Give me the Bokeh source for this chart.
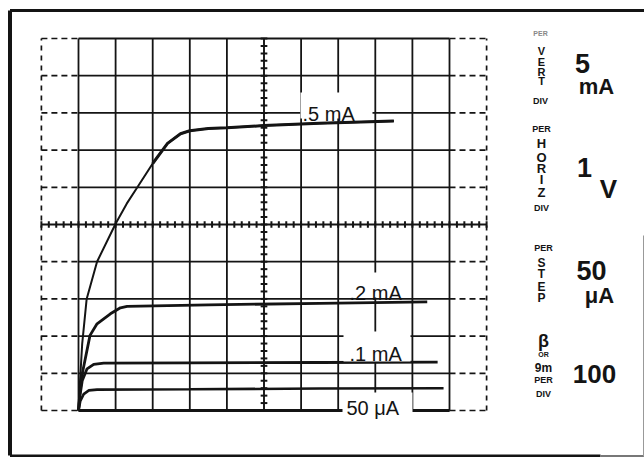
import numpy as np
from bokeh.plotting import figure
from bokeh.models import Range1d
from bokeh.core.properties import value
from bokeh.embed import file_html
from bokeh.resources import INLINE

# Curve-tracer display: collector voltage (V) against collector current (mA),
# one trace per base-current step.
step_labels = [".5 mA", ".2 mA", ".1 mA", "50 μA"]

v_500u = [0, 0.03, 0.1, 0.22, 0.5, 1.0, 1.3, 1.6, 2.0, 2.4, 2.75, 3.0, 3.5, 4.0, 5.0, 6.5, 8.5]
i_500u = [0, 3.0, 9.0, 15.0, 20.0, 25.1, 27.8, 30.1, 33.2, 35.9, 37.2, 37.6, 37.9, 38.0, 38.3, 38.6, 38.9]

v_200u = [0, 0.03, 0.10, 0.31, 0.50, 0.86, 1.13, 1.31, 3.5, 6.5, 9.4]
i_200u = [0, 2.0, 4.9, 10.1, 11.65, 13.0, 13.8, 14.0, 14.2, 14.4, 14.6]

v_100u = [0, 0.04, 0.10, 0.23, 0.41, 0.68, 3.0, 6.5, 9.68]
i_100u = [0, 2.0, 4.0, 5.6, 6.2, 6.36, 6.4, 6.45, 6.5]

v_50u = [0, 0.05, 0.14, 0.28, 0.5, 3.0, 6.5, 9.84]
i_50u = [0, 1.3, 2.2, 2.7, 2.8, 2.85, 2.95, 3.0]

v_0 = [0, 10]
i_0 = [0, 0]

# Graticule: 10 x 10 divisions, 1 V and 5 mA per division
x_divs = list(range(0, 11))
y_divs = list(range(0, 55, 5))

# Readout panel
vert_letters = ["V", "E", "R", "T"]
horiz_letters = ["H", "O", "R", "I", "Z"]
step_letters = ["S", "T", "E", "P"]
vert_value = ["5", "mA"]
horiz_value = ["1", "V"]
step_value = ["50", "μA"]
beta_value = "100"

INK = "#141414"
W, H = 644, 457
PX_PER_V = 37.1
PX_PER_MA = 7.44
X0, Y0 = 78.0, 410.0


def X(px):
    return (px - X0) / PX_PER_V


def Y(py):
    return (Y0 - py) / PX_PER_MA


p = figure(width=W, height=H, output_backend="svg", toolbar_location=None,
           x_range=Range1d(X(0), X(W)), y_range=Range1d(Y(H), Y(0)),
           min_border=0, background_fill_color="white", border_fill_color="white")
p.axis.visible = False
p.grid.visible = False
p.outline_line_color = None

# Outer bezel frame
p.line([X(9.5), X(9.5)], [Y(10), Y(455)], line_color=INK, line_width=4)
p.line([X(9.5), X(644)], [Y(10), Y(10)], line_color=INK, line_width=3)
p.line([X(9.5), X(600)], [Y(455.5), Y(455.5)], line_color=INK, line_width=3)
p.line([X(600), X(644)], [Y(455.5), Y(455.5)], line_color="#777777", line_width=2)
p.line([X(643), X(643)], [Y(235), Y(456)], line_color="#999999", line_width=1)

# Solid graticule
for xv in x_divs:
    if xv == 5:
        continue
    p.line([xv, xv], [0, 50], line_color=INK, line_width=1.8)
for yv in y_divs:
    if yv == 25:
        continue
    p.line([0, 10], [yv, yv], line_color=INK, line_width=1.8)
    # dashed extensions beyond the graticule
    p.line([-1, 0], [yv, yv], line_color=INK, line_width=1.7, line_dash="6 4")
    p.line([10, 11], [yv, yv], line_color=INK, line_width=1.7, line_dash="6 4")
p.line([-1, -1], [0, 50], line_color=INK, line_width=1.7, line_dash="5 5")
p.line([11, 11], [0, 50], line_color=INK, line_width=1.7, line_dash="5 5")

# Centre axes with minor ticks every 1/5 division
p.line([-1, 11], [25, 25], line_color=INK, line_width=1.9)
p.line([5, 5], [0, 50], line_color=INK, line_width=1.9)
tx = np.arange(-1, 11.001, 0.2)
p.segment(x0=tx, y0=25 - 0.45, x1=tx, y1=25 + 0.45, line_color=INK, line_width=2)
ty = np.arange(0, 50.001, 1.0)
p.segment(x0=5 - 0.09, y0=ty, x1=5 + 0.09, y1=ty, line_color=INK, line_width=2)

# Traces
p.line(v_500u, i_500u, line_color=INK, line_width=2)
knee = [k for k, v in enumerate(v_500u) if v >= 2.0][0]
p.line(v_500u[knee:], i_500u[knee:], line_color=INK, line_width=3)
p.line(v_200u, i_200u, line_color=INK, line_width=2.8)
p.line(v_100u, i_100u, line_color=INK, line_width=2.8)
p.line(v_50u, i_50u, line_color=INK, line_width=2.6)
p.line(v_0, i_0, line_color=INK, line_width=3.2)

# Step labels on white patches
boxes = [(300, 372, 92, 118), (345, 410, 272, 297), (343, 410, 331, 361), (342, 412, 392, 413)]
p.quad(left=[X(b[0]) for b in boxes], right=[X(b[1]) for b in boxes],
       top=[Y(b[2]) for b in boxes], bottom=[Y(b[3]) for b in boxes],
       fill_color="white", line_color=None)
label_pos = [(302, 113), (349, 292), (349, 353), (346, 407)]
p.text(x=[X(a) for a, _ in label_pos], y=[Y(b) for _, b in label_pos], text=step_labels,
       text_font=value("Liberation Sans"), text_font_size="20px", text_color=INK,
       text_align="left", text_baseline="alphabetic")


def put(px, py, txt, size, bold=True, color=INK, font="Liberation Sans"):
    p.text(x=[X(px)], y=[Y(py)], text=[txt], text_font=value(font),
           text_font_size=f"{size}px", text_font_style="bold" if bold else "normal",
           text_color=color, text_align="center", text_baseline="middle")


# Readout panel: stacked captions
put(540, 33, "PER", 7, color="#888888")
for k, ch in enumerate(vert_letters):
    put(541, [50, 61.5, 71.5, 80][k], ch, 11)
put(540, 100, "DIV", 9)

put(541, 128, "PER", 9)
for k, ch in enumerate(horiz_letters):
    put(541, [143, 157, 168, 178.5, 192][k], ch, 13)
put(541, 207, "DIV", 9)

put(543, 247, "PER", 9)
for k, ch in enumerate(step_letters):
    put(541, [262.5, 273, 286, 297.5][k], ch, 12)

put(543, 340, "β", 18)
put(543, 354, "OR", 7)
put(543, 367, "9m", 12)
put(543, 379, "PER", 9)
put(543, 393, "DIV", 9)

# Readout panel: values
put(582, 63, vert_value[0], 27)
put(596, 86, vert_value[1], 22)
put(584, 167, horiz_value[0], 27)
put(608, 188, horiz_value[1], 26)
put(591, 270, step_value[0], 27)
put(599, 295, step_value[1], 22)
put(594, 373, beta_value, 26)

open("out.html", "w").write(file_html(p, INLINE))
